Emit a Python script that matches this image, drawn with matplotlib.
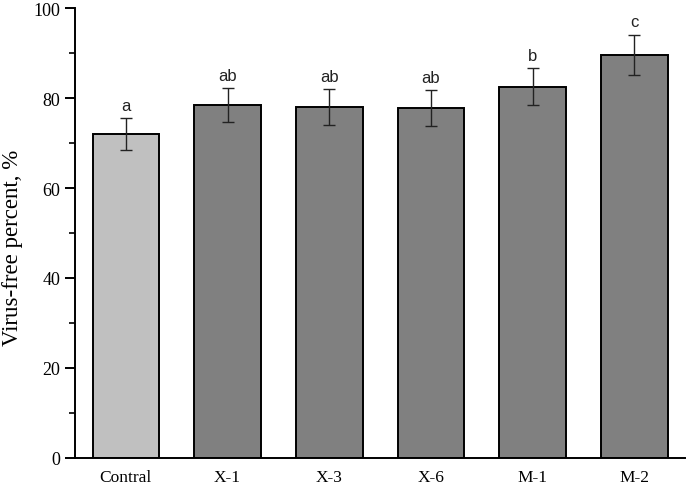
import numpy as np
import matplotlib.pyplot as plt
from matplotlib.ticker import MultipleLocator

# data
groups = ['Contral', 'X-1', 'X-3', 'X-6', 'M-1', 'M-2']
means = [72.0, 78.4, 78.0, 77.8, 82.5, 89.6]
errs = [3.6, 3.8, 4.0, 3.9, 4.1, 4.5]
letters = ['a', 'ab', 'ab', 'ab', 'b', 'c']
colors = ['#c0c0c0', '#808080', '#808080', '#808080', '#808080', '#808080']

plt.rcParams['font.family'] = ['Liberation Serif', 'DejaVu Serif']

fig = plt.figure(figsize=(6.88, 4.85), dpi=100)
ax = fig.add_axes([0.109, 0.054, 0.887, 0.927])

x = np.arange(len(groups))
ax.bar(x, means, width=0.655, color=colors, edgecolor='black', linewidth=1.4, zorder=2)
ax.errorbar(x, means, yerr=errs, fmt='none', ecolor='#222222', elinewidth=1.0,
            capsize=4.5, capthick=1.0, zorder=3)

for xi, m, e, t in zip(x, means, errs, letters):
    ax.text(xi, m + e + 1.2, t, ha='center', va='bottom', fontsize=12,
            family=['Liberation Sans', 'DejaVu Sans'], color='#222222')

ax.set_xlim(-0.5, 5.5)
ax.set_ylim(0, 100)
ax.set_xticks(x)
ax.set_xticklabels(groups, fontsize=12.5)
ax.tick_params(axis='x', length=0, pad=8)
ax.yaxis.set_major_locator(MultipleLocator(20))
ax.yaxis.set_minor_locator(MultipleLocator(10))
ax.tick_params(axis='y', which='major', length=7, width=1.4, labelsize=13, direction='out')
ax.tick_params(axis='y', which='minor', length=4, width=1.2, direction='out')
ax.set_ylabel('Virus-free percent, %', fontsize=16.5)
ax.yaxis.set_label_coords(-0.085, 0.47)

for side in ['top', 'right']:
    ax.spines[side].set_visible(False)
for side in ['left', 'bottom']:
    ax.spines[side].set_linewidth(1.4)

fig.savefig('out.png', dpi=100)
